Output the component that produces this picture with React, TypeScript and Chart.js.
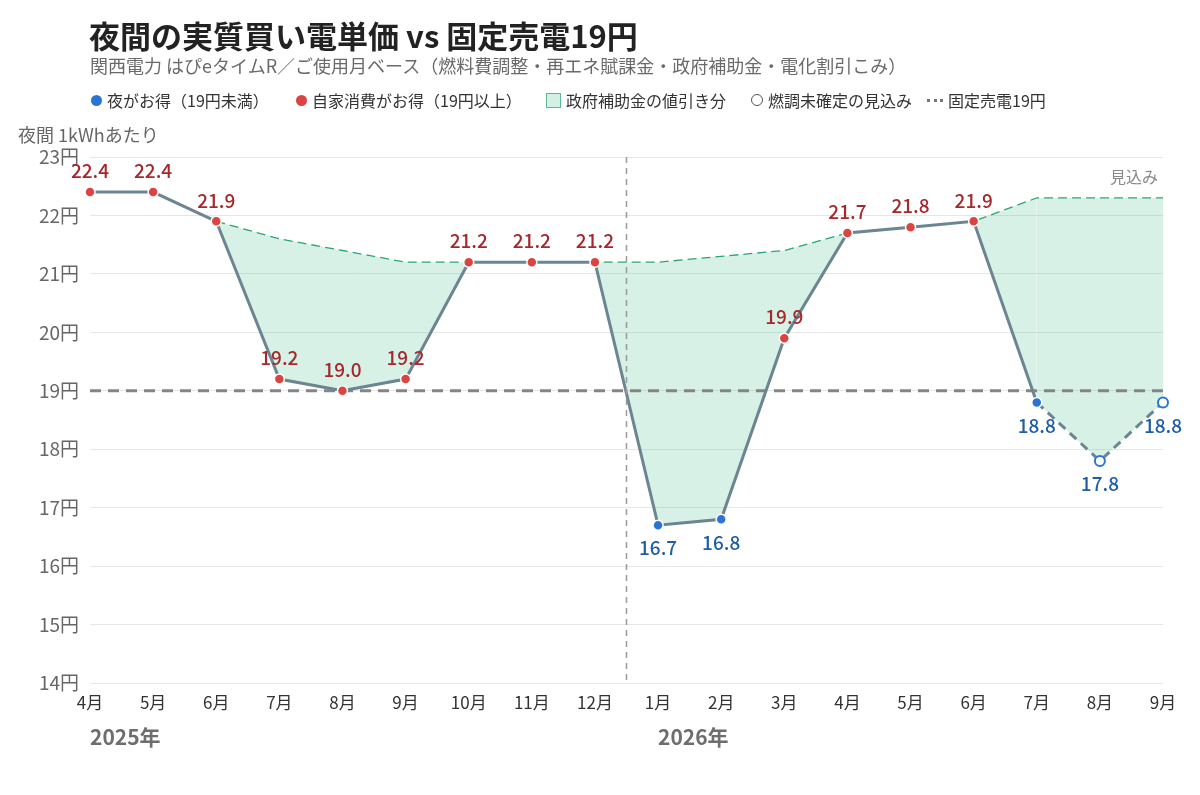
import React, { useEffect, useRef } from 'react';
import { Chart, registerables } from 'chart.js';
Chart.register(...registerables);

const FONT = '"Noto Sans CJK JP", "Noto Sans", sans-serif';

const months = ['4月', '5月', '6月', '7月', '8月', '9月', '10月', '11月', '12月', '1月', '2月', '3月', '4月', '5月', '6月', '7月', '8月', '9月'];
const actualPrice = [22.4, 22.4, 21.9, 19.2, 19.0, 19.2, 21.2, 21.2, 21.2, 16.7, 16.8, 19.9, 21.7, 21.8, 21.9, 18.8, 17.8, 18.8];
const noSubsidyPrice = [null, null, 21.9, 21.6, 21.4, 21.2, 21.2, 21.2, 21.2, 21.2, 21.3, 21.4, 21.7, 21.8, 21.9, 22.3, 22.3, 22.3];
const fixedSell = [19, 19, 19, 19, 19, 19, 19, 19, 19, 19, 19, 19, 19, 19, 19, 19, 19, 19];
const estimated = [false, false, false, false, false, false, false, false, false, false, false, false, false, false, false, false, true, true];
const yearTexts = ['2025年', '2026年'];
const yearStartIdx = [0, 9];
const yTicks = [14, 15, 16, 17, 18, 19, 20, 21, 22, 23];

const RED = '#db4541';
const BLUE = '#2b75d2';
const RED_TEXT = '#a5292c';
const BLUE_TEXT = '#1f5ea6';
const LINE = '#6b8692';

const overlayPlugin = {
  id: 'overlay',
  afterDatasetsDraw(chart: any) {
    const { ctx, chartArea, scales } = chart;
    const x = scales.x;
    const y = scales.y;
    ctx.save();
    // year divider
    const xd = (x.getPixelForValue(8) + x.getPixelForValue(9)) / 2;
    ctx.strokeStyle = '#9a9a9a';
    ctx.lineWidth = 1.5;
    ctx.setLineDash([6, 5]);
    ctx.beginPath();
    ctx.moveTo(xd, chartArea.top);
    ctx.lineTo(xd, chartArea.bottom);
    ctx.stroke();
    ctx.setLineDash([]);
    // data labels
    ctx.font = '500 19px ' + FONT;
    ctx.textAlign = 'center';
    ctx.textBaseline = 'middle';
    actualPrice.forEach((v, i) => {
      const px = x.getPixelForValue(i);
      const py = y.getPixelForValue(v);
      if (v < 19) {
        ctx.fillStyle = BLUE_TEXT;
        ctx.fillText(v.toFixed(1), px, py + 23);
      } else {
        ctx.fillStyle = RED_TEXT;
        ctx.fillText(v.toFixed(1), px, py - 21);
      }
    });
    // estimate note
    ctx.font = '16px ' + FONT;
    ctx.fillStyle = '#8a8a8a';
    ctx.textAlign = 'right';
    ctx.fillText('見込み', chartArea.right - 5, chartArea.top + 20);
    // axis title
    ctx.font = '18px ' + FONT;
    ctx.fillStyle = '#666';
    ctx.textAlign = 'left';
    ctx.fillText('夜間 1kWhあたり', 18, chartArea.top - 22);
    // years
    ctx.font = 'bold 21px ' + FONT;
    ctx.fillStyle = '#6e6e6e';
    yearTexts.forEach((t, k) => {
      ctx.fillText(t, x.getPixelForValue(yearStartIdx[k]), chartArea.bottom + 54);
    });
    ctx.restore();
  },
};

export default function App() {
  const ref = useRef<HTMLCanvasElement>(null);
  useEffect(() => {
    document.body.style.margin = '0';
    const pointBg = actualPrice.map((v, i) => (estimated[i] ? '#ffffff' : v < 19 ? BLUE : RED));
    const pointBorder = actualPrice.map((v, i) => (estimated[i] ? BLUE : '#ffffff'));
    const pointBw = actualPrice.map((v, i) => (estimated[i] ? 2 : 1.5));
    const chart = new Chart(ref.current!, {
      type: 'line',
      data: {
        labels: months,
        datasets: [
          {
            label: 'actual',
            data: actualPrice,
            borderColor: LINE,
            borderWidth: 3,
            pointBackgroundColor: pointBg,
            pointBorderColor: pointBorder,
            pointBorderWidth: pointBw,
            pointRadius: 5,
            tension: 0,
            fill: false,
            order: 0,
            segment: {
              borderDash: (c: any) => (c.p0DataIndex >= 15 ? [9, 6] : undefined),
            },
          },
          {
            label: 'fixed',
            data: fixedSell,
            borderColor: '#858585',
            borderWidth: 3,
            borderDash: [11, 7],
            pointRadius: 0,
            fill: false,
            order: 1,
          },
          {
            label: 'noSubsidy',
            data: noSubsidyPrice,
            borderColor: '#2aa676',
            borderWidth: 1.3,
            borderDash: [9, 5],
            pointRadius: 0,
            tension: 0,
            fill: { target: 0 },
            backgroundColor: 'rgba(72,190,140,0.22)',
            order: 2,
          },
        ] as any,
      },
      options: {
        responsive: false,
        animation: false,
        events: [],
        layout: { padding: { top: 157, right: 37, left: 0, bottom: 0 } },
        plugins: { legend: { display: false }, tooltip: { enabled: false }, title: { display: false } },
        scales: {
          x: {
            offset: false,
            grid: { display: false, drawTicks: false },
            border: { display: false },
            ticks: { color: '#333', font: { family: FONT, size: 17 }, padding: 9, maxRotation: 0, autoSkip: false },
            afterFit: (s: any) => { s.height = 112; },
          },
          y: {
            min: 14,
            max: 23,
            afterBuildTicks: (s: any) => { s.ticks = yTicks.map((v) => ({ value: v })); },
            grid: { color: '#e6e6e6', lineWidth: 1, drawTicks: false },
            border: { display: false },
            ticks: { color: '#666', font: { family: FONT, size: 19 }, padding: 11, callback: (v: any) => v + '円' },
            afterFit: (s: any) => { s.width = 90; },
          },
        },
      } as any,
      plugins: [overlayPlugin],
    });
    return () => chart.destroy();
  }, []);

  const legendItem = (left: number, icon: React.ReactNode, text: string) => (
    <div style={{ position: 'absolute', left, top: 90, height: 20, display: 'flex', alignItems: 'center', fontSize: 16, color: '#333', whiteSpace: 'nowrap' }}>
      {icon}
      <span style={{ marginLeft: 5 }}>{text}</span>
    </div>
  );
  const dot = (c: string) => <span style={{ display: 'inline-block', width: 11, height: 11, borderRadius: '50%', background: c }} />;

  return (
    <div style={{ position: 'relative', width: 1200, height: 795, fontFamily: FONT, background: '#fff', overflow: 'hidden' }}>
      <canvas ref={ref} width={1200} height={795} style={{ position: 'absolute', left: 0, top: 0 }} />
      <div style={{ position: 'absolute', left: 89, top: 14, fontSize: 31, fontWeight: 'bold', color: '#222', whiteSpace: 'nowrap', lineHeight: '42px' }}>
        夜間の実質買い電単価 vs 固定売電19円
      </div>
      <div style={{ position: 'absolute', left: 90, top: 53, fontSize: 18, color: '#6a6a6a', whiteSpace: 'nowrap', lineHeight: '24px' }}>
        関西電力 はぴeタイムR／ご使用月ベース（燃料費調整・再エネ賦課金・政府補助金・電化割引こみ）
      </div>
      {legendItem(91, dot(BLUE), '夜がお得（19円未満）')}
      {legendItem(296, dot(RED), '自家消費がお得（19円以上）')}
      {legendItem(546, <span style={{ display: 'inline-block', width: 13, height: 13, background: '#d3f0e4', border: '1px solid #5cb890' }} />, '政府補助金の値引き分')}
      {legendItem(751, <span style={{ display: 'inline-block', width: 10, height: 10, borderRadius: '50%', border: '1.5px solid #555', background: '#fff' }} />, '燃調未確定の見込み')}
      {legendItem(927, <span style={{ display: 'inline-block', width: 16, height: 0, borderTop: '3px dotted #777' }} />, '固定売電19円')}
    </div>
  );
}
